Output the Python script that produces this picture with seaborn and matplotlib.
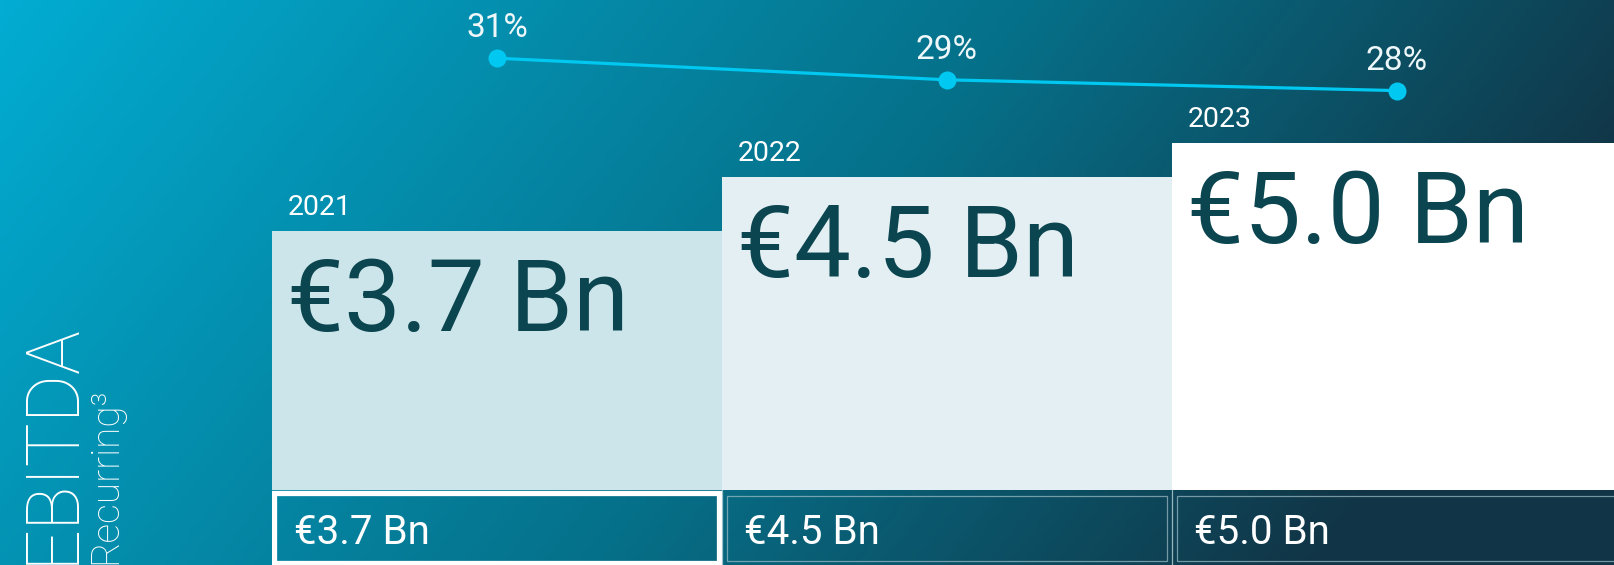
import numpy as np
import seaborn as sns
import matplotlib.pyplot as plt
from matplotlib.colors import LinearSegmentedColormap
from matplotlib.patches import Rectangle

# EBITDA recurring by year, in EUR billions, and the margin line on top
years = ['2021', '2022', '2023']
ebitda = [3.7, 4.5, 5.0]
margin = [31, 29, 28]
bar_colors = ['#cce5ea', '#e3eff2', '#ffffff']

sns.set_style('white')
plt.rcParams['font.family'] = ['Roboto', 'DejaVu Sans']

W, H = 1615, 565
fig = plt.figure(figsize=(W / 100, H / 100), dpi=100)

# gradient background (cyan top-left -> dark navy bottom-right)
bg = fig.add_axes([0, 0, 1, 1], zorder=-1)
xx, yy = np.meshgrid(np.linspace(0, 1, 400), np.linspace(0, 1, 140))
t = np.clip(xx * 0.92 + yy * 0.25, 0, 1)
cmap = LinearSegmentedColormap.from_list('bg', [(0, '#02acd2'), (0.59, '#067089'), (1, '#113546')])
bg.imshow(t, cmap=cmap, vmin=0, vmax=1, aspect='auto', extent=[0, 1, 1, 0])
bg.set_axis_off()

ax = fig.add_axes([272 / W, 0, 1350 / W, 1])
ax.set_facecolor('none')
sns.barplot(x=years, y=ebitda, hue=years, palette=bar_colors, saturation=1,
            width=1, legend=False, ax=ax, edgecolor='none')
ymin, ymax = -1.239, 7.124
ax.set_ylim(ymin, ymax)
ax.set_xlim(-0.5, 2.5)
strip_top = -0.129
px = (ymax - ymin) / H  # data units per pixel (y)
# bars are drawn down to the top of the bottom strip
for p in ax.patches:
    h = p.get_y() + p.get_height()
    p.set_y(strip_top)
    p.set_height(h - strip_top)
ax.set_axis_off()

xpx = 3 / 1350  # data units per pixel (x)
for i, (yr, v) in enumerate(zip(years, ebitda)):
    lbl = f'€{v:.1f} Bn'
    ax.annotate(yr, xy=(i - 0.5, v), xytext=(16 * 0.72, 16 * 0.72), textcoords='offset points',
                ha='left', va='baseline', fontsize=20.5, color='white')
    ax.annotate(lbl, xy=(i - 0.5, v), xytext=(15 * 0.72, -100 * 0.72), textcoords='offset points',
                ha='left', va='baseline', fontsize=73, color='#0b4550')
    ax.annotate(lbl, xy=(i - 0.5, ymin), xytext=(22 * 0.72, 21 * 0.72), textcoords='offset points',
                ha='left', va='baseline', fontsize=29, color='white')
    # bottom strip box
    if i == 0:
        ax.add_patch(Rectangle((i - 0.5 + 2.5 * xpx, ymin + 2 * px), 1 - 5 * xpx, strip_top - ymin - 5 * px,
                               facecolor='none', edgecolor='white', lw=3.8, zorder=3))
    else:
        ax.add_patch(Rectangle((i - 0.5 + 5 * xpx, ymin + 4 * px), 1 - 10 * xpx, strip_top - ymin - 10 * px,
                               facecolor='none', edgecolor='#9fc0c8', lw=0.9, alpha=0.7, zorder=3))
        ax.plot([i - 0.5, i - 0.5], [ymin, strip_top], color='#b9d3d8', lw=0.9, alpha=0.8, zorder=3)

# margin line on a second axis
ax2 = ax.twinx()
sns.lineplot(x=[0, 1, 2], y=margin, ax=ax2, color='#00c8f0', lw=2.3, marker='o',
             markersize=13, markeredgewidth=0)
ax2.set_ylim(-15.93, 36.39)
ax2.set_xlim(-0.5, 2.5)
ax2.set_axis_off()
for i, m in enumerate(margin):
    ax2.annotate(f'{m}%', xy=(i, m), xytext=(0, 21 * 0.72), textcoords='offset points',
                 ha='center', va='baseline', fontsize=24, color='#eef7f9')

# vertical title on the left
fig.text(73 / W, 1 / H, 'EBITDA', rotation=90, rotation_mode='anchor', ha='left', va='baseline',
         fontsize=53, color='white', fontweight='light')
fig.text(116 / W, 1 / H, 'Recurring³', rotation=90, rotation_mode='anchor', ha='left', va='baseline',
         fontsize=28, color='white', fontweight='light')

fig.savefig('out.png', dpi=100)
